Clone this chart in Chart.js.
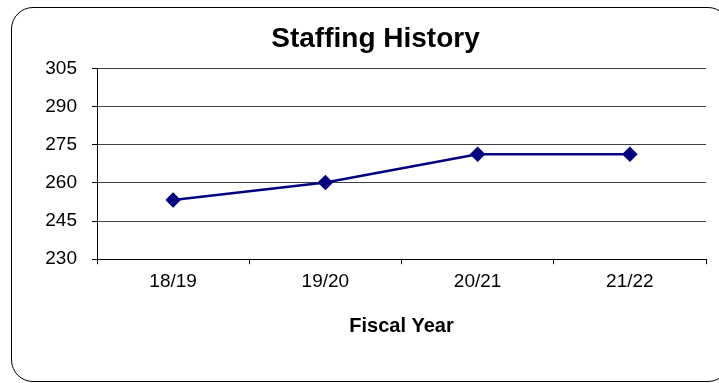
<!DOCTYPE html>
<html>
<head>
<meta charset="utf-8">
<script src="https://cdn.jsdelivr.net/npm/chart.js@4"></script>
<style>
  html, body { margin:0; padding:0; width:719px; height:383px; overflow:hidden; background:#fff; }
  #frame { position:absolute; left:11px; top:7px; width:719px; height:375px; border:1px solid #000; border-radius:22px; box-sizing:border-box; }
  #wrap { position:absolute; left:0; top:0; width:719px; height:383px; }
</style>
</head>
<body>
<div id="frame"></div>
<div id="wrap"><canvas id="c" width="719" height="383"></canvas></div>
<script>
const categories = ["18/19", "19/20", "20/21", "21/22"];
const staffing = [253.3, 260.2, 271.3, 271.3];
const yTicks = [230, 245, 260, 275, 290, 305];

const FONT = "'Liberation Sans', Arial, sans-serif";

new Chart(document.getElementById('c'), {
  type: 'line',
  data: {
    labels: categories,
    datasets: [{
      data: staffing,
      borderColor: '#000080',
      backgroundColor: '#000080',
      borderWidth: 2.5,
      pointStyle: 'rectRot',
      pointRadius: 6,
      pointHoverRadius: 6,
      tension: 0,
      fill: false
    }]
  },
  options: {
    responsive: false,
    animation: false,
    devicePixelRatio: 1,
    layout: { padding: { left: 45, right: 13, top: 0, bottom: 41 } },
    plugins: {
      legend: { display: false },
      tooltip: { enabled: false },
      title: {
        display: true,
        text: 'Staffing History',
        color: '#000',
        font: { family: FONT, size: 28, weight: 'bold' },
        padding: { top: 22, bottom: 13 }
      }
    },
    scales: {
      x: {
        type: 'category',
        offset: true,
        grid: {
          offset: true,
          drawOnChartArea: true,
          color: (ctx) => ctx.index === categories.length ? '#000' : 'rgba(0,0,0,0)',
          tickColor: '#000',
          tickLength: 5,
          lineWidth: 1
        },
        border: { display: true, color: '#000', width: 1 },
        ticks: {
          color: '#000',
          font: { family: FONT, size: 19 },
          padding: 6,
          maxRotation: 0
        },
        title: {
          display: true,
          text: 'Fiscal Year',
          color: '#000',
          font: { family: FONT, size: 20, weight: 'bold' },
          padding: { top: 15, bottom: 4 }
        }
      },
      y: {
        min: 230,
        max: 305,
        afterBuildTicks: (axis) => { axis.ticks = yTicks.map(v => ({ value: v })); },
        afterFit: (axis) => { axis.width = 52; },
        grid: {
          color: '#404040',
          tickColor: '#000',
          tickLength: 5,
          lineWidth: 1
        },
        border: { display: true, color: '#000', width: 1 },
        ticks: {
          color: '#000',
          font: { family: FONT, size: 19 },
          padding: 15
        }
      }
    }
  }
});
</script>
</body>
</html>
